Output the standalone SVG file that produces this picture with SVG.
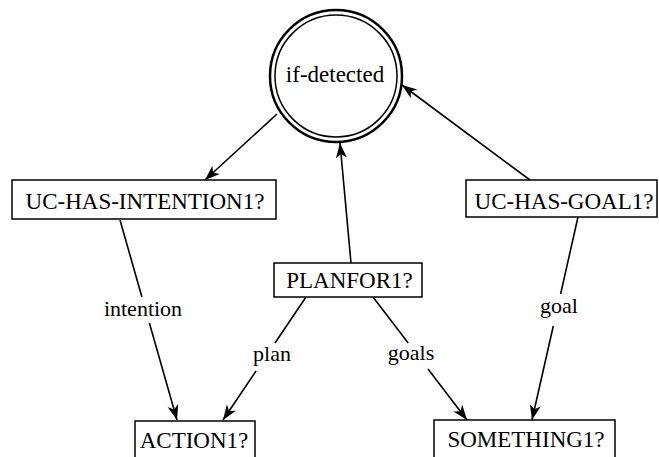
<svg xmlns="http://www.w3.org/2000/svg" width="659" height="457" viewBox="0 0 659 457">
<defs>
<style>
.box{fill:#fff;stroke:#000;stroke-width:1.5}
.t{font-family:"Liberation Serif","Times New Roman",serif;font-size:23px;fill:#000;text-anchor:middle}
.l{font-family:"Liberation Serif","Times New Roman",serif;font-size:22px;fill:#000;text-anchor:middle}
.e{fill:none;stroke:#000;stroke-width:1.6;marker-end:url(#ah)}
</style>
<marker id="ah" viewBox="-16 -6 17 12" refX="0" refY="0" markerWidth="17" markerHeight="12" markerUnits="userSpaceOnUse" orient="auto">
<path d="M0,0 L-15,-5.5 L-11,0 L-15,5.5 Z" fill="#000"/>
</marker>
</defs>
<rect width="659" height="457" fill="#fff"/>
<g id="connectors">
<path class="e" d="M277,114 L205,180"/>
<path class="e" d="M120,220 L141.9,297 M149.4,323 L177,420"/>
<path class="e" d="M351,263 L340,143"/>
<path class="e" d="M530,180 L402,85"/>
<path class="e" d="M578,217 L560.6,294 M553.3,326 L532,420"/>
<path class="e" d="M306,297 L275,343 M256.1,371 L223,420"/>
<path class="e" d="M373,297 L408.2,343 M428,369 L467,420"/>
<text class="l" x="143" y="316">intention</text>
<text class="l" x="559" y="313">goal</text>
<text class="l" x="272" y="361">plan</text>
<text class="l" x="411" y="360">goals</text>
</g>
<g id="if-detected">
<circle cx="336" cy="76" r="66" fill="#fff" stroke="#000" stroke-width="2.5"/>
<circle cx="336" cy="76" r="61" fill="none" stroke="#000" stroke-width="1.5"/>
<text class="t" x="335" y="82">if-detected</text>
</g>
<g id="uc-has-intention1">
<rect class="box" x="12" y="180" width="264" height="39"/>
<text class="t" x="145" y="209">UC-HAS-INTENTION1?</text>
</g>
<g id="planfor1">
<rect class="box" x="274" y="263" width="148" height="34"/>
<text class="t" x="349.5" y="288">PLANFOR1?</text>
</g>
<g id="uc-has-goal1">
<rect class="box" x="466" y="180" width="191" height="37"/>
<text class="t" x="564" y="209">UC-HAS-GOAL1?</text>
</g>
<g id="action1">
<rect class="box" x="135" y="421" width="120" height="60"/>
<text class="t" x="194" y="448">ACTION1?</text>
</g>
<g id="something1">
<rect class="box" x="434" y="420" width="181" height="60"/>
<text class="t" x="526" y="447">SOMETHING1?</text>
</g>
</svg>
